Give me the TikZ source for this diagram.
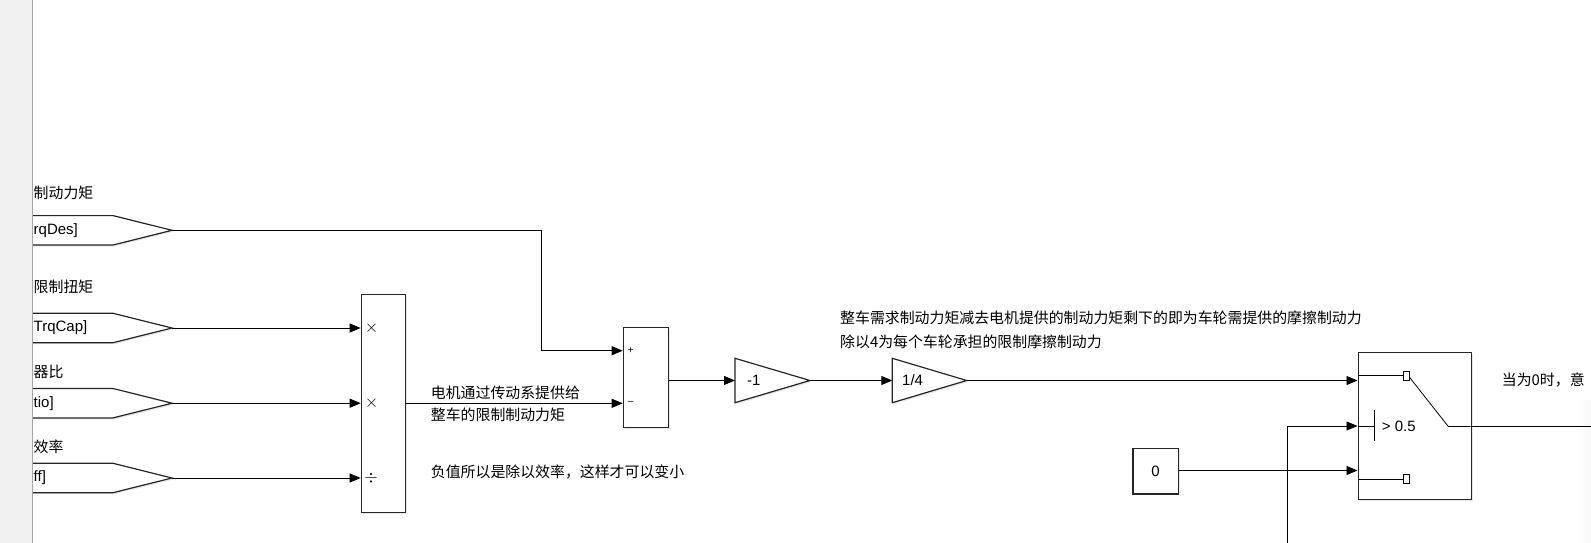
\documentclass[tikz,border=0pt]{standalone}
\usepackage{fontspec}
\setmainfont{Liberation Sans}
\newfontfamily\cjk{Noto Sans CJK SC}
\usetikzlibrary{arrows.meta,shadows,calc}
\begin{document}
\begin{tikzpicture}[x=1pt,y=-1pt,
  sig/.style={line width=0.9pt,-{Triangle[length=11pt,width=9pt]}},
  wire/.style={line width=0.9pt},
  thin/.style={line width=0.8pt},
  blk/.style={draw=black!85,line width=1.2pt,fill=white,inner sep=0pt,
    drop shadow={shadow xshift=1.5pt,shadow yshift=-1.5pt,opacity=0.18}},
  cjt/.style={font=\cjk\fontsize{14.9}{17}\selectfont,inner sep=0pt,anchor=west},
  lat/.style={font=\fontsize{15}{17}\selectfont,inner sep=0pt},
  sgn/.style={inner sep=0pt,font=\fontsize{18}{20}\selectfont},
]
\useasboundingbox (0,0) rectangle (1591,543);
\fill[white] (0,0) rectangle (1591,543);
\shade[left color=white,right color=gray!6] (1578,400) rectangle (1591,543);

% From tags
\foreach \n/\y in {1/230.3,2/328,3/403.2,4/478}{
  \draw[blk] (20,{\y-14.7}) -- (113,{\y-14.7}) -- (172,\y) -- (113,{\y+14.7}) -- (20,{\y+14.7}) -- cycle;
  \coordinate (tag\n) at (172,\y);
}
% left gray strip
\fill[gray!12] (0,0) rectangle (32,543);
\draw[gray!70,line width=1pt] (32.3,0) -- (32.3,543);

\node[lat,anchor=west] (t1) at (33.5,230.3) {rqDes]};
\node[lat,anchor=west] (t2) at (33.5,328) {TrqCap]};
\node[lat,anchor=west] (t3) at (33.5,403.2) {tio]};
\node[lat,anchor=west] (t4) at (33.5,478) {ff]};
\node[cjt] (l1) at (33.5,193) {制动力矩};
\node[cjt] (l2) at (33.5,286.7) {限制扭矩};
\node[cjt] (l3) at (33.5,372) {器比};
\node[cjt] (l4) at (33.5,446.7) {效率};

% Product block
\node[blk,minimum width=44.3pt,minimum height=218pt,anchor=north west] (prod) at (360.7,293.5) {};
\node[sgn] (s1) at (371.5,328) {$\times$};
\node[sgn] (s2) at (371.5,403.2) {$\times$};
\node[sgn] (s3) at (371,478.3) {$\div$};

% Sum block
\node[blk,minimum width=45pt,minimum height=100pt,anchor=north west] (sum) at (622.7,326.7) {};
\node[inner sep=0pt,font=\fontsize{10}{11}\selectfont] (sp) at (630.7,351) {+};
\node[inner sep=0pt,font=\fontsize{10}{11}\selectfont] (sm) at (630.7,403.3) {\textendash};
\coordinate (sumP) at (622.7,350.7);
\coordinate (sumM) at (622.7,403.3);
\coordinate (bend1) at (541.7,350.7);

% Gains
\draw[blk] (735,358.3) -- (810,380.5) -- (735,402.7) -- cycle;
\draw[blk] (892.3,358.3) -- (966.7,380.5) -- (892.3,402.7) -- cycle;
\coordinate (g1in) at (735,380.5);
\coordinate (g1out) at (810,380.5);
\coordinate (g2in) at (892.3,380.5);
\coordinate (g2out) at (966.7,380.5);
\node[lat,anchor=west] (g1t) at (747,380.5) {-1};
\node[lat,anchor=west] (g2t) at (902,380.5) {1/4};

% Switch
\node[blk,minimum width=113pt,minimum height=147pt,anchor=north west] (sw) at (1357.5,352) {};
\coordinate (swIn1) at (1357.5,380.5);
\coordinate (swIn2) at (1357.5,426);
\coordinate (swIn3) at (1357.5,470.5);
\coordinate (swOut) at (1470.5,426.5);
\coordinate (outEnd) at (1595,426.5);
\draw[thin] (1357.5,375) -- (1403.3,375);
\draw[thin] (1403.3,371.5) rectangle (1409.3,380);
\draw[thin] (1409.3,377) -- (1448.3,426.5) -- (swOut);
\draw[thin] (swIn2) -- (1374.3,426);
\draw[thin] (1374.3,410) -- (1374.3,441);
\node[lat,anchor=west] (thr) at (1381.7,426) {> 0.5};
\draw[thin] (1357.5,479) -- (1403.3,479);
\draw[thin] (1403.3,474.5) rectangle (1409.3,483.5);

% Constant
\node[blk,lat,minimum width=45.4pt,minimum height=45.6pt,anchor=north west] (c0) at (1132.3,447.7) {0};
\coordinate (vbot) at (1287.5,546);

% Connectors
\draw[sig] (tag1) -| (bend1) -- (sumP);
\draw[sig] (tag2) -- (prod.west |- tag2);
\draw[sig] (tag3) -- (prod.west |- tag3);
\draw[sig] (tag4) -- (prod.west |- tag4);
\draw[sig] (prod.east |- sumM) -- (sumM);
\draw[sig] (sum.east |- g1in) -- (g1in);
\draw[sig] (g1out) -- (g2in);
\draw[sig] (g2out) -- (swIn1);
\draw[sig] (c0.east |- swIn3) -- (swIn3);
\draw[sig] (vbot) |- (swIn2);
\draw[wire] (swOut) -- (outEnd);

% Annotations
\node[cjt] (a1) at (430.7,393.3) {电机通过传动系提供给};
\node[cjt] (a2) at (430.7,415) {整车的限制制动力矩};
\node[cjt] (a3) at (430.7,471.7) {负值所以是除以效率，这样才可以变小};
\node[cjt] (a4) at (840,318.3) {整车需求制动力矩减去电机提供的制动力矩剩下的即为车轮需提供的摩擦制动力};
\node[cjt] (a5) at (840,341.7) {除以4为每个车轮承担的限制摩擦制动力};
\node[cjt] (a6) at (1501.7,380) {当为0时，意};
\end{tikzpicture}
\end{document}
